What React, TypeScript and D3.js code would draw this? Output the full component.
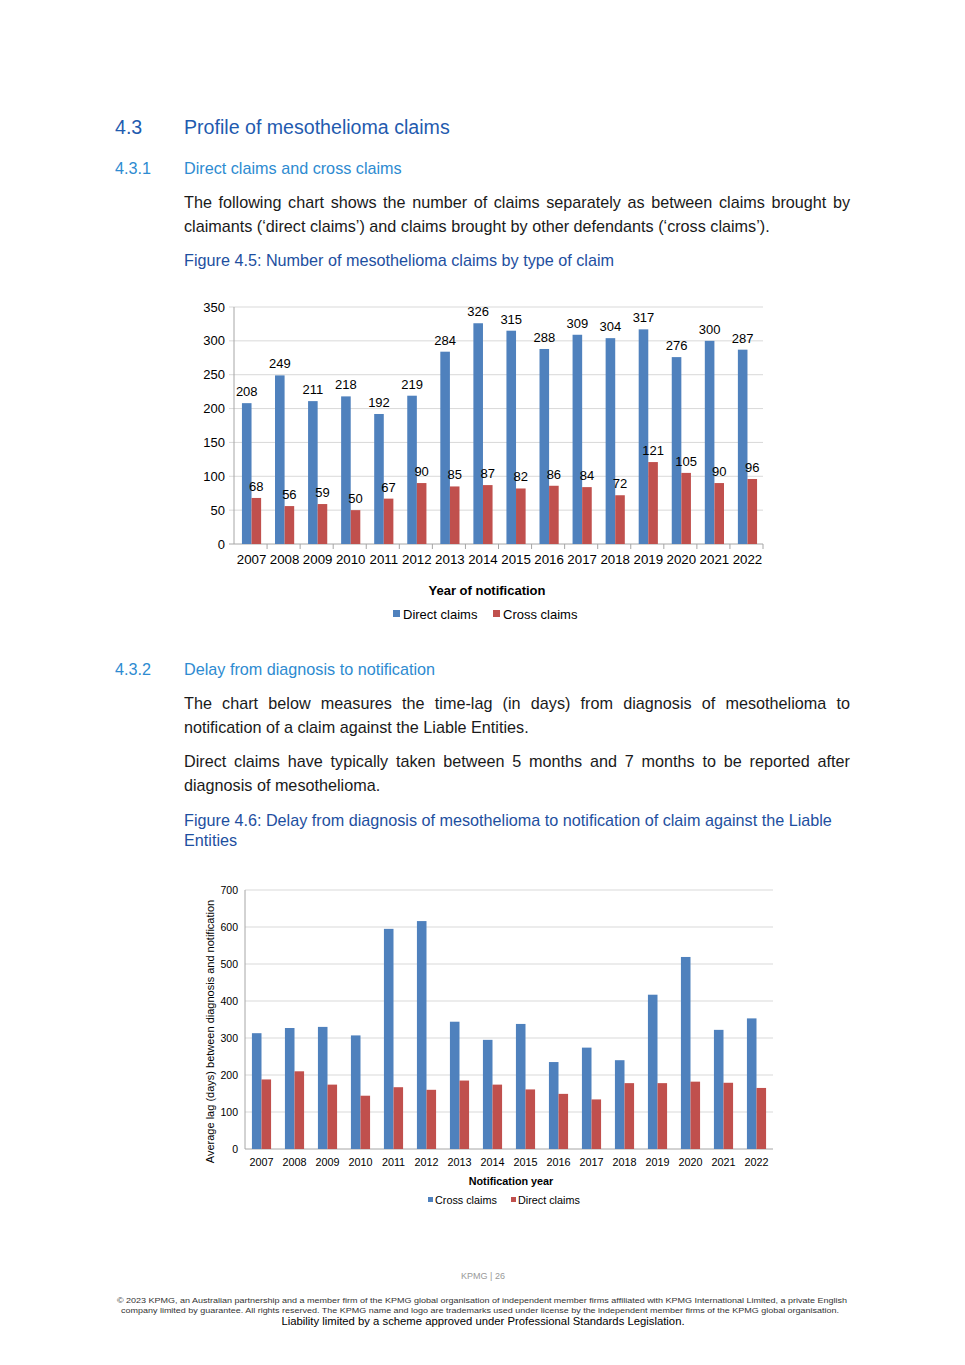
import React, { useEffect, useRef } from "react";
import * as d3 from "d3";

// ---------- DATA ----------
const years = ["2007","2008","2009","2010","2011","2012","2013","2014","2015","2016","2017","2018","2019","2020","2021","2022"];

// Figure 4.5
const directClaims = [208,249,211,218,192,219,284,326,315,288,309,304,317,276,300,287];
const crossClaims = [68,56,59,50,67,90,85,87,82,86,84,72,121,105,90,96];
const fig45Ticks = [0,50,100,150,200,250,300,350];
const fig45Series = ["Direct claims","Cross claims"];

// Figure 4.6 (average lag in days)
const lagCross = [313,327,330,307,595,616,344,295,338,235,274,240,417,519,322,353];
const lagDirect = [188,210,174,144,167,160,185,174,161,149,134,178,178,182,179,165];
const fig46Ticks = [0,100,200,300,400,500,600,700];
const fig46Series = ["Cross claims","Direct claims"];

const BLUE = "#4F81BD";
const RED = "#C0504D";
const GRID = "#D9D9D9";
const AXIS = "#A6A6A6";
const FONT = "'Liberation Sans', Arial, sans-serif";

function JustText({ x, y, width, size, fill, children, justify = true }: any) {
  const ref = useRef<SVGTextElement>(null);
  useEffect(() => {
    const el = ref.current;
    if (!el || !justify) return;
    el.setAttribute("word-spacing", "0");
    const len = el.getComputedTextLength();
    const txt = el.textContent || "";
    const spaces = (txt.match(/ /g) || []).length;
    if (spaces > 0) {
      el.setAttribute("word-spacing", String((width - len) / spaces));
    }
  }, [width, justify, children]);
  return (
    <text ref={ref} x={x} y={y} fontSize={size} fill={fill} fontFamily={FONT}>
      {children}
    </text>
  );
}

function Chart45() {
  const x = d3.scaleBand().domain(years).range([234, 763]).padding(0);
  const y = d3.scaleLinear().domain([0, 350]).range([544, 307]);
  const bw = x.bandwidth() * 0.29;
  const cx = (yr: string) => (x(yr) as number) + x.bandwidth() / 2 + 1;
  return (
    <g fontFamily={FONT}>
      {fig45Ticks.map((t) => (
        <g key={t}>
          <line x1={229} x2={763} y1={y(t)} y2={y(t)} stroke={t === 0 ? AXIS : GRID} strokeWidth={1} />
          <text x={225} y={y(t) + 4.5} fontSize={13} textAnchor="end" fill="#000">{t}</text>
        </g>
      ))}
      <line x1={234} x2={234} y1={y(350)} y2={y(0)} stroke={AXIS} />
      {years.map((yr) => (
        <line key={"tk" + yr} x1={(x(yr) as number) + x.bandwidth()} x2={(x(yr) as number) + x.bandwidth()} y1={544} y2={549} stroke={AXIS} />
      ))}
      {years.map((yr, i) => (
        <g key={yr}>
          <rect x={cx(yr) - bw} y={y(directClaims[i])} width={bw} height={y(0) - y(directClaims[i])} fill={BLUE} />
          <rect x={cx(yr)} y={y(crossClaims[i])} width={bw} height={y(0) - y(crossClaims[i])} fill={RED} />
          <text x={cx(yr) - bw / 2} y={y(directClaims[i]) - 7} fontSize={13} textAnchor="middle" fill="#000">{directClaims[i]}</text>
          <text x={cx(yr) + bw / 2} y={y(crossClaims[i]) - 7} fontSize={13} textAnchor="middle" fill="#000">{crossClaims[i]}</text>
          <text x={(x(yr) as number) + x.bandwidth() / 2 + 1} y={564} fontSize={13.3} textAnchor="middle" fill="#000">{yr}</text>
        </g>
      ))}
      <text x={487} y={595} fontSize={13} fontWeight="bold" textAnchor="middle" fill="#000">Year of notification</text>
      <rect x={393} y={610} width={7} height={7} fill={BLUE} />
      <text x={403} y={619} fontSize={13} fill="#000">{fig45Series[0]}</text>
      <rect x={493} y={610} width={7} height={7} fill={RED} />
      <text x={503} y={619} fontSize={13} fill="#000">{fig45Series[1]}</text>
    </g>
  );
}

function Chart46() {
  const x = d3.scaleBand().domain(years).range([245, 773]).padding(0);
  const y = d3.scaleLinear().domain([0, 700]).range([1149, 890]);
  const bw = x.bandwidth() * 0.29;
  const cx = (yr: string) => (x(yr) as number) + x.bandwidth() / 2;
  return (
    <g fontFamily={FONT}>
      {fig46Ticks.map((t) => (
        <g key={t}>
          <line x1={245} x2={773} y1={y(t)} y2={y(t)} stroke={t === 0 ? AXIS : GRID} strokeWidth={1} />
          <text x={238} y={y(t) + 3.5} fontSize={10.5} textAnchor="end" fill="#000">{t}</text>
        </g>
      ))}
      <line x1={245} x2={245} y1={y(700)} y2={y(0)} stroke={AXIS} />
      {years.map((yr, i) => (
        <g key={yr}>
          <rect x={cx(yr) - bw} y={y(lagCross[i])} width={bw} height={y(0) - y(lagCross[i])} fill={BLUE} />
          <rect x={cx(yr)} y={y(lagDirect[i])} width={bw} height={y(0) - y(lagDirect[i])} fill={RED} />
          <text x={cx(yr)} y={1166} fontSize={10.8} textAnchor="middle" fill="#000">{yr}</text>
        </g>
      ))}
      <text transform={`translate(214,1031.5) rotate(-90)`} fontSize={11} textAnchor="middle" fill="#000">
        Average lag (days) between diagnosis and notification
      </text>
      <text x={511} y={1185} fontSize={10.8} fontWeight="bold" textAnchor="middle" fill="#000">Notification year</text>
      <rect x={428} y={1197} width={5} height={5} fill={BLUE} />
      <text x={435} y={1204} fontSize={10.8} fill="#000">{fig46Series[0]}</text>
      <rect x={511} y={1197} width={5} height={5} fill={RED} />
      <text x={518} y={1204} fontSize={10.8} fill="#000">{fig46Series[1]}</text>
    </g>
  );
}

export default function App() {
  const H1 = "#1F5BAF";
  const H2 = "#2E8BD1";
  const CAP = "#1E4FA0";
  const BODY = "#1a1a1a";
  const B = 16.2;
  return (
    <svg width={965} height={1365} style={{ position: "absolute", left: 0, top: 0, background: "#fff" }} fontFamily={FONT}>
      <rect x={0} y={0} width={965} height={1365} fill="#fff" />
      <text x={115} y={134} fontSize={19.6} fill={H1}>4.3</text>
      <text x={184} y={134} fontSize={19.6} fill={H1}>Profile of mesothelioma claims</text>
      <text x={115} y={174} fontSize={B} fill={H2}>4.3.1</text>
      <text x={184} y={174} fontSize={B} fill={H2}>Direct claims and cross claims</text>
      <JustText x={184} y={208} width={666} size={B} fill={BODY}>The following chart shows the number of claims separately as between claims brought by</JustText>
      <JustText x={184} y={232} width={666} size={B} fill={BODY} justify={false}>claimants (‘direct claims’) and claims brought by other defendants (‘cross claims’).</JustText>
      <text x={184} y={266} fontSize={B} fill={CAP}>Figure 4.5: Number of mesothelioma claims by type of claim</text>

      <Chart45 />

      <text x={115} y={675} fontSize={B} fill={H2}>4.3.2</text>
      <text x={184} y={675} fontSize={B} fill={H2}>Delay from diagnosis to notification</text>
      <JustText x={184} y={709} width={666} size={B} fill={BODY}>The chart below measures the time-lag (in days) from diagnosis of mesothelioma to</JustText>
      <JustText x={184} y={733} width={666} size={B} fill={BODY} justify={false}>notification of a claim against the Liable Entities.</JustText>
      <JustText x={184} y={767} width={666} size={B} fill={BODY}>Direct claims have typically taken between 5 months and 7 months to be reported after</JustText>
      <JustText x={184} y={791} width={666} size={B} fill={BODY} justify={false}>diagnosis of mesothelioma.</JustText>
      <text x={184} y={826} fontSize={B} fill={CAP}>Figure 4.6: Delay from diagnosis of mesothelioma to notification of claim against the Liable</text>
      <text x={184} y={846} fontSize={B} fill={CAP}>Entities</text>

      <Chart46 />

      <text x={483} y={1279} fontSize={9} fill="#999" textAnchor="middle">KPMG  |  26</text>
      <text x={482} y={1303} fontSize={8} fill="#333" textAnchor="middle" textLength={730} lengthAdjust="spacingAndGlyphs">© 2023 KPMG, an Australian partnership and a member firm of the KPMG global organisation of independent member firms affiliated with KPMG International Limited, a private English</text>
      <text x={480} y={1313} fontSize={8} fill="#333" textAnchor="middle" textLength={718} lengthAdjust="spacingAndGlyphs">company limited by guarantee. All rights reserved. The KPMG name and logo are trademarks used under license by the independent member  firms of the KPMG global organisation.</text>
      <text x={483} y={1325} fontSize={11.3} fill="#000" textAnchor="middle">Liability limited by a scheme approved under Professional Standards Legislation.</text>
    </svg>
  );
}
